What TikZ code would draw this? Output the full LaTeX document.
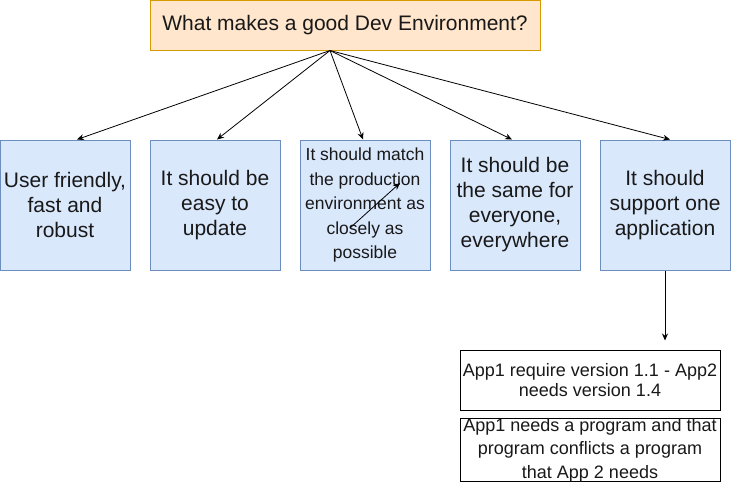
\documentclass[tikz,border=0pt]{standalone}
\usepackage{fontspec}
\setmainfont{Liberation Sans}
\usepackage{xcolor}
\usetikzlibrary{positioning,calc,arrows.meta}

\definecolor{qfill}{HTML}{FFE6CC}
\definecolor{qline}{HTML}{D79B00}
\definecolor{bfill}{HTML}{DAE8FC}
\definecolor{bline}{HTML}{6C8EBF}

\tikzset{
    question/.style={draw=qline, fill=qfill, line width=1pt, minimum width=390pt, minimum height=50pt, text=black!90, font=\fontsize{21}{25}\selectfont},
    reqbox/.style={draw=bline, fill=bfill, line width=1pt, minimum width=130pt, minimum height=130pt, inner sep=0pt, align=center, text=black!90, font=\fontsize{21}{25}\selectfont},
    notebox/.style={draw=black, fill=white, line width=1pt, minimum width=260pt, minimum height=60pt, inner sep=0pt, align=center, text=black!90},
    arr/.style={-{Stealth[length=7pt,width=6pt]}, line width=0.8pt}
}

\begin{document}
\begin{tikzpicture}[x=1pt, y=-1pt]
    \useasboundingbox (0,0) rectangle (731,483);

    \node[question] (q) at (345,25) {What makes a good Dev Environment?};
    \coordinate (hub) at ([xshift=-15pt]q.south);

    \node[reqbox] (b1) at (65,205) {User friendly,\\fast and\\robust};
    \node[reqbox] (b2) at (215,205) {It should be\\easy to\\update};
    \node[reqbox, font=\fontsize{17.5}{24.5}\selectfont] (b3) at (365,205) {It should match\\the production\\environment as\\closely as\\possible};
    \node[reqbox] (b4) at (515,205) {It should be\\the same for\\everyone,\\everywhere};
    \node[reqbox] (b5) at (665,205) {It should\\support one\\application};

    \node[notebox, font=\fontsize{18}{20}\selectfont] (n1) at (590,380) {App1 require version 1.1 - App2\\needs version 1.4};
    \node[notebox, font=\fontsize{18}{23.5}\selectfont] (n2) at (590,450) {App1 needs a program and that\\program conflicts a program\\that App 2 needs};

    \draw[arr] (hub) -- ([xshift=12pt]b1.north);
    \draw[arr] (hub) -- ([xshift=2pt]b2.north);
    \draw[arr] (hub) -- ([xshift=-2pt]b3.north);
    \draw[arr] (hub) -- ([xshift=-3pt]b4.north);
    \draw[arr] (hub) -- ([xshift=5pt]b5.north);

    % stray arrow inside the third box
    \coordinate (s1) at ($(b3.center)+(-15,23)$);
    \coordinate (s2) at ($(b3.center)+(35,-22)$);
    \draw[arr] (s1) -- (s2);

    \coordinate (down) at ($(b5.south)+(0,70)$);
    \draw[arr] (b5.south) -- (down);
\end{tikzpicture}
\end{document}
